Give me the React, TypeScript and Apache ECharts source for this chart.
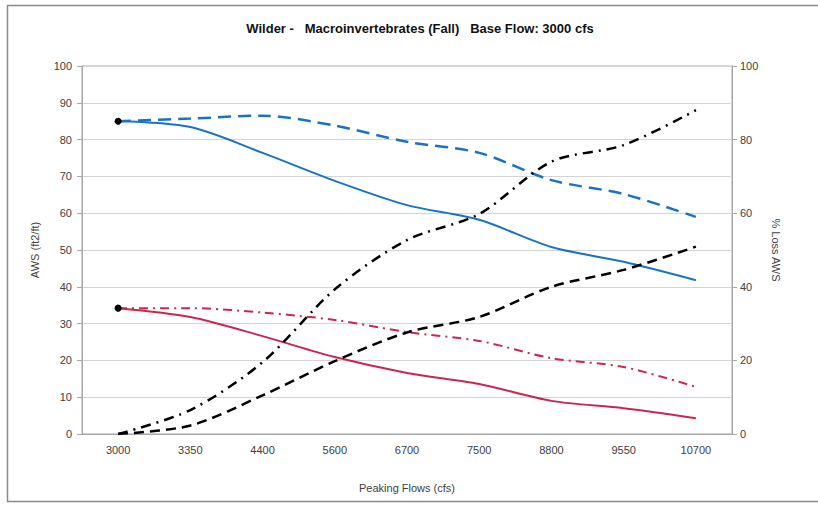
import React, { useEffect, useRef } from "react";
import * as echarts from "echarts";

const categories = ["3000", "3350", "4400", "5600", "6700", "7500", "8800", "9550", "10700"];
const blueSolid = [85.0, 83.4, 76.4, 68.8, 62.2, 58.2, 50.8, 46.8, 41.8];
const blueDashed = [85.0, 85.7, 86.5, 83.8, 79.4, 76.4, 69.0, 65.2, 59.0];
const redSolid = [34.2, 31.8, 26.6, 20.9, 16.6, 13.6, 9.0, 7.0, 4.3];
const redDashDot = [34.2, 34.2, 33.0, 31.0, 27.7, 25.3, 20.6, 18.2, 12.8];
const lossRed = [0, 6.5, 19.5, 39.3, 52.7, 59.8, 74.0, 78.5, 88.0];
const lossBlue = [0, 2.3, 10.5, 19.8, 27.6, 31.8, 40.0, 44.6, 50.9];
const leftTicks = { min: 0, max: 100, interval: 10 };
const rightTicks = { min: 0, max: 100, interval: 20 };

const FONT = "Liberation Sans, Arial, sans-serif";
const TXT = "#404040";

export default function App() {
  const ref = useRef<HTMLDivElement>(null);
  useEffect(() => {
    document.body.style.margin = "0";
    const chart = echarts.init(ref.current!, null, { renderer: "svg" });
    const firstDot = (arr: number[]) =>
      arr.map((v, i) =>
        i === 0
          ? { value: v, symbol: "circle", symbolSize: 7, itemStyle: { color: "#000" } }
          : { value: v, symbol: "none" }
      );
    chart.setOption({
      animation: false,
      backgroundColor: "#fff",
      textStyle: { fontFamily: FONT },
      title: {
        text: "Wilder -   Macroinvertebrates (Fall)   Base Flow: 3000 cfs",
        left: 415,
        textAlign: "center",
        top: 17,
        textStyle: { fontFamily: FONT, fontSize: 13, fontWeight: "bold", color: "#111" },
      },
      graphic: [
        {
          type: "polyline",
          shape: { points: [[830, 5.5], [7.5, 5.5], [7.5, 501.5], [830, 501.5]] },
          style: { fill: "none", stroke: "#8a8a8a", lineWidth: 1.5 },
          silent: true,
          z: 0,
        },
      ],
      grid: {
        left: 82,
        right: 86,
        top: 66,
        bottom: 71,
        show: true,
        borderColor: "#a6a6a6",
        borderWidth: 1,
        backgroundColor: "transparent",
      },
      xAxis: {
        type: "category",
        data: categories,
        boundaryGap: true,
        name: "Peaking Flows (cfs)",
        nameLocation: "middle",
        nameGap: 48,
        nameTextStyle: { fontFamily: FONT, fontSize: 11, color: TXT },
        axisLine: { show: true, lineStyle: { color: "#a6a6a6" } },
        axisTick: { show: false },
        axisLabel: { fontFamily: FONT, fontSize: 11, color: TXT, margin: 10 },
        splitLine: { show: false },
      },
      yAxis: [
        {
          type: "value",
          ...leftTicks,
          position: "left",
          name: "AWS (ft2/ft)",
          nameLocation: "middle",
          nameRotate: 90,
          nameGap: 42,
          nameTextStyle: { fontFamily: FONT, fontSize: 11, color: TXT },
          axisLine: { show: true, lineStyle: { color: "#a6a6a6" } },
          axisTick: { show: true, inside: false, length: 5, lineStyle: { color: "#a6a6a6" } },
          axisLabel: { fontFamily: FONT, fontSize: 11, color: TXT, margin: 10 },
          splitLine: { show: true, lineStyle: { color: "#d4d4d4", width: 1 } },
        },
        {
          type: "value",
          ...rightTicks,
          position: "right",
          name: "% Loss AWS",
          nameLocation: "middle",
          nameRotate: -90,
          nameGap: 38,
          nameTextStyle: { fontFamily: FONT, fontSize: 11, color: TXT },
          axisLine: { show: true, lineStyle: { color: "#a6a6a6" } },
          axisTick: { show: true, inside: false, length: 5, lineStyle: { color: "#a6a6a6" } },
          axisLabel: { fontFamily: FONT, fontSize: 11, color: TXT, margin: 8 },
          splitLine: { show: false },
        },
      ],
      series: [
        {
          type: "line",
          name: "Blue dashed",
          data: blueDashed,
          yAxisIndex: 0,
          smooth: 0.3,
          symbol: "none",
          lineStyle: { color: "#1a72c4", width: 2.5, type: [13, 7] },
          z: 3,
        },
        {
          type: "line",
          name: "Blue solid",
          data: firstDot(blueSolid),
          yAxisIndex: 0,
          smooth: 0.3,
          lineStyle: { color: "#1a72c4", width: 2 },
          z: 4,
        },
        {
          type: "line",
          name: "Red dash-dot",
          data: redDashDot,
          yAxisIndex: 0,
          smooth: 0.3,
          symbol: "none",
          lineStyle: { color: "#c8284f", width: 2, type: [9, 5, 2, 5] },
          z: 3,
        },
        {
          type: "line",
          name: "Red solid",
          data: firstDot(redSolid),
          yAxisIndex: 0,
          smooth: 0.3,
          lineStyle: { color: "#c8284f", width: 2 },
          z: 4,
        },
        {
          type: "line",
          name: "Loss dash-dot",
          data: lossRed,
          yAxisIndex: 1,
          smooth: 0.3,
          symbol: "none",
          lineStyle: { color: "#000", width: 2.5, type: [10, 6, 2, 6] },
          z: 5,
        },
        {
          type: "line",
          name: "Loss dashed",
          data: lossBlue,
          yAxisIndex: 1,
          smooth: 0.3,
          symbol: "none",
          lineStyle: { color: "#000", width: 2.5, type: [10, 6] },
          z: 5,
        },
      ],
    });
    return () => chart.dispose();
  }, []);
  return <div ref={ref} style={{ width: 818, height: 505 }} />;
}
